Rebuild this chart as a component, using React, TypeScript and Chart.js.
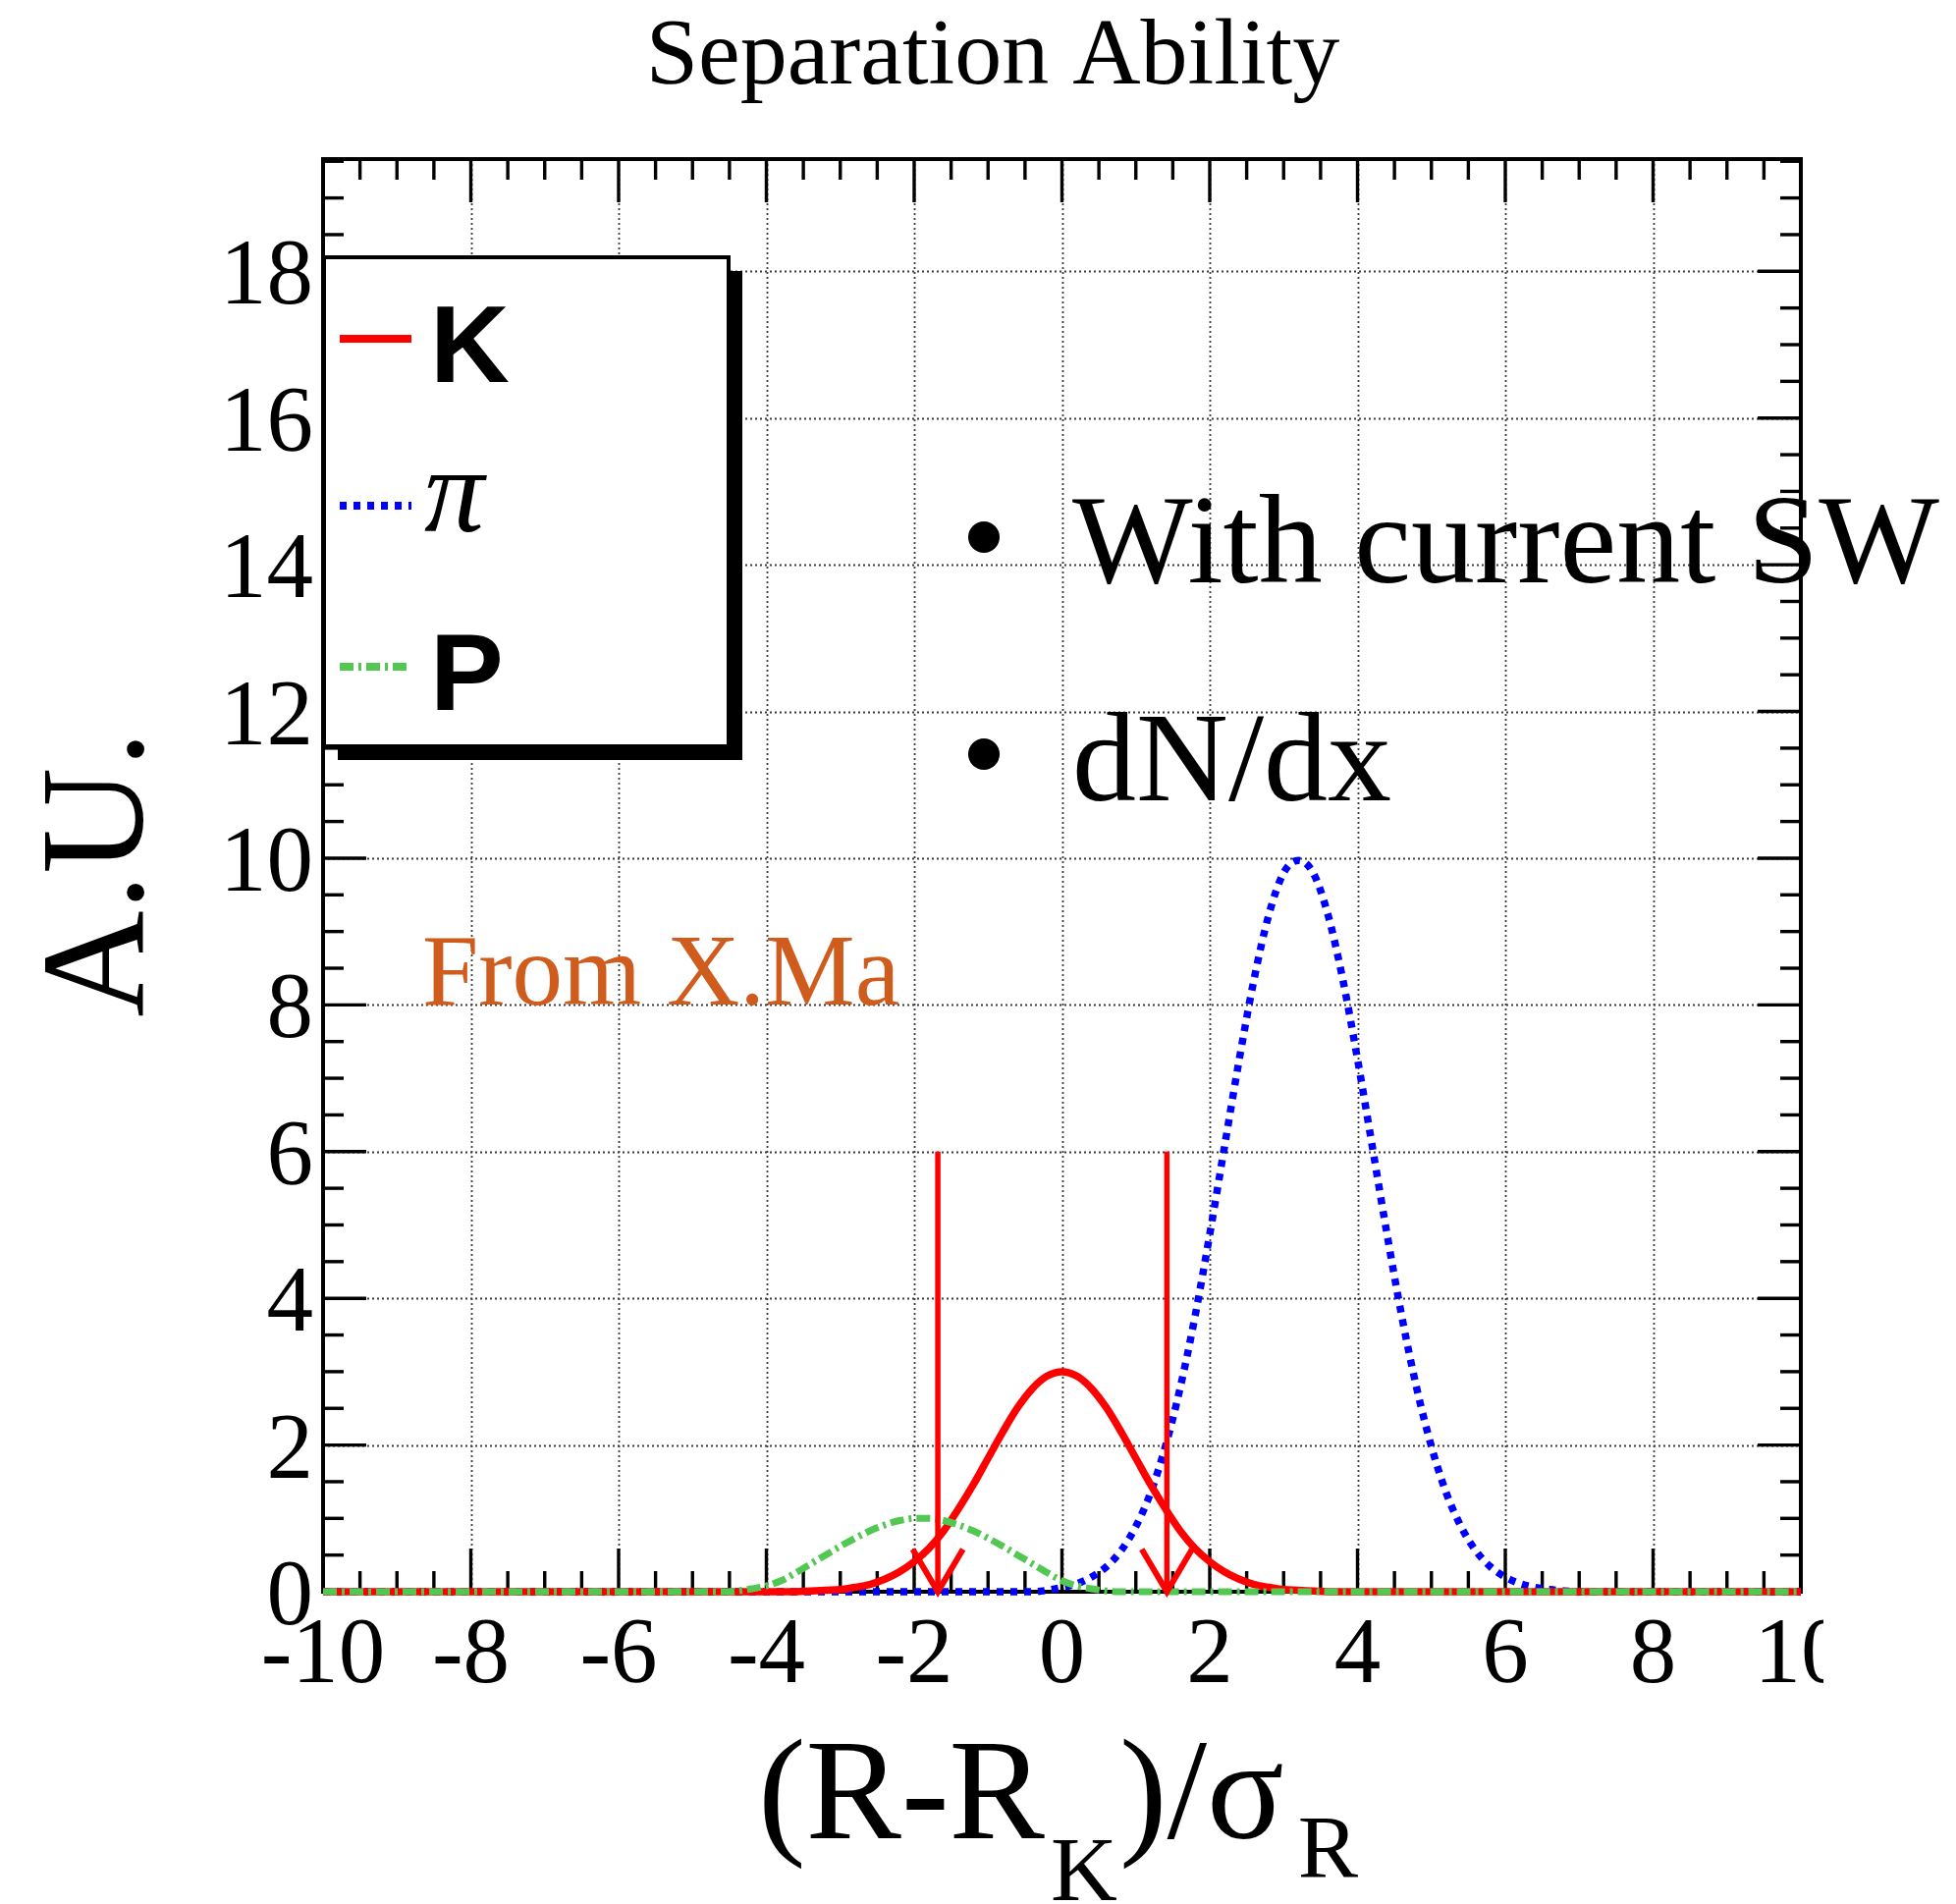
import React, { useEffect, useRef } from "react";
import { Chart, registerables } from "chart.js";

Chart.register(...registerables);

const W = 1992;
const H = 1939;

// ---- data ----
const xs = [
  -10, -5, -4.8, -4.6, -4.4, -4.2, -4, -3.8, -3.6, -3.4, -3.2, -3, -2.8, -2.6, -2.4, -2.2, -2, -1.8, -1.6,
  -1.4, -1.2, -1, -0.8, -0.6, -0.4, -0.2, 0, 0.2, 0.4, 0.6, 0.8, 1, 1.2, 1.4, 1.6, 1.8, 2, 2.2, 2.4, 2.6,
  2.8, 3, 3.2, 3.4, 3.6, 3.8, 4, 4.2, 4.4, 4.6, 4.8, 5, 5.2, 5.4, 5.6, 5.8, 6, 6.2, 6.4, 6.6, 6.8, 7, 7.2,
  7.4, 7.6, 7.8, 8, 10,
];
const kaonValues = [
  0, 0, 0, 0, 0, 0, 0, 0, 0, 0.01, 0.02, 0.03, 0.06, 0.1, 0.17, 0.27, 0.41, 0.59, 0.83,
  1.13, 1.46, 1.82, 2.18, 2.51, 2.77, 2.94, 3.0, 2.94, 2.77, 2.51, 2.18, 1.82, 1.46, 1.13, 0.83, 0.59, 0.41, 0.27, 0.17, 0.1,
  0.06, 0.03, 0.02, 0.01, 0, 0, 0, 0, 0, 0, 0, 0, 0, 0, 0, 0, 0, 0, 0, 0, 0, 0, 0,
  0, 0, 0, 0, 0,
];
const pionValues = [
  0, 0, 0, 0, 0, 0, 0, 0, 0, 0, 0, 0, 0, 0, 0, 0, 0, 0, 0,
  0, 0, 0, 0, 0, 0, 0.02, 0.06, 0.11, 0.2, 0.34, 0.56, 0.89, 1.35, 1.98, 2.78, 3.75, 4.87, 6.07, 7.26, 8.35,
  9.23, 9.8, 9.97, 9.8, 9.23, 8.35, 7.26, 6.07, 4.87, 3.75, 2.78, 1.98, 1.35, 0.89, 0.56, 0.34, 0.2, 0.11, 0.06, 0.03, 0.01, 0, 0,
  0, 0, 0, 0, 0,
];
const protonValues = [
  0, 0, 0, 0, 0.01, 0.04, 0.08, 0.15, 0.26, 0.38, 0.5, 0.62, 0.73, 0.83, 0.91, 0.97, 1.0, 1.0, 0.97,
  0.91, 0.83, 0.73, 0.62, 0.5, 0.38, 0.26, 0.15, 0.08, 0.04, 0.01, 0, 0, 0, 0, 0, 0, 0, 0, 0, 0,
  0, 0, 0, 0, 0, 0, 0, 0, 0, 0, 0, 0, 0, 0, 0, 0, 0, 0, 0, 0, 0, 0, 0,
  0, 0, 0, 0, 0,
];
const cutX = [-1.68, 1.42];
const cutTop = 6;
const arrowHeadDx = 0.34;
const arrowHeadDy = 0.58;

const xMajorTicks = [-10, -8, -6, -4, -2, 0, 2, 4, 6, 8, 10];
const xTickLabels = ["-10", "-8", "-6", "-4", "-2", "0", "2", "4", "6", "8", "10"];
const yMajorTicks = [0, 2, 4, 6, 8, 10, 12, 14, 16, 18];
const yTickLabels = ["0", "2", "4", "6", "8", "10", "12", "14", "16", "18"];
const xGridValues = [-8, -6, -4, -2, 0, 2, 4, 6, 8];
const yGridValues = [2, 4, 6, 8, 10, 12, 14, 16, 18];
const xMin = -10;
const xMax = 10;
const yMin = 0;
const yMax = 19.53;
const minorStep = 0.5;

const legendLabels = ["K", "π", "P"];

const RED = "#ff0000";
const BLUE = "#0000ff";
const GREEN = "#52c852";
const PION_DASH = [7, 7];
const PROTON_DASH = [14, 5, 3, 5];

const SERIF = '"Liberation Serif", "Times New Roman", serif';
const SANS = '"Liberation Sans", Arial, sans-serif';

function line(ctx: CanvasRenderingContext2D, x1: number, y1: number, x2: number, y2: number) {
  ctx.beginPath();
  ctx.moveTo(x1, y1);
  ctx.lineTo(x2, y2);
  ctx.stroke();
}

const decoPlugin = {
  id: "deco",
  beforeDatasetsDraw(chart: any) {
    const ctx: CanvasRenderingContext2D = chart.ctx;
    const { left, right, top, bottom } = chart.chartArea;
    const sx = chart.scales.x;
    const sy = chart.scales.y;
    ctx.save();
    // grid
    ctx.strokeStyle = "#3c3c3c";
    ctx.lineWidth = 1.8;
    ctx.setLineDash([2, 3]);
    xGridValues.forEach((v) => {
      const px = Math.round(sx.getPixelForValue(v)) + 0.5;
      line(ctx, px, top, px, bottom);
    });
    yGridValues.forEach((v) => {
      const py = Math.round(sy.getPixelForValue(v)) + 0.5;
      line(ctx, left, py, right, py);
    });
    ctx.setLineDash([]);
    // frame
    ctx.strokeStyle = "#000";
    ctx.lineWidth = 4;
    ctx.strokeRect(left, top, right - left, bottom - top);
    // ticks
    ctx.lineWidth = 3.4;
    for (let v = xMin; v <= xMax + 1e-9; v += minorStep) {
      const px = sx.getPixelForValue(v);
      const major = xMajorTicks.some((t) => Math.abs(t - v) < 1e-6);
      const len = major ? 44 : 21;
      line(ctx, px, bottom, px, bottom - len);
      line(ctx, px, top, px, top + len);
    }
    for (let v = yMin; v <= yMax + 1e-9; v += minorStep) {
      const py = sy.getPixelForValue(v);
      const major = yMajorTicks.some((t) => Math.abs(t - v) < 1e-6);
      const len = major ? 44 : 21;
      line(ctx, left, py, left + len, py);
      line(ctx, right, py, right - len, py);
    }
    ctx.restore();
  },
  afterDatasetsDraw(chart: any) {
    const ctx: CanvasRenderingContext2D = chart.ctx;
    const { left, bottom } = chart.chartArea;
    const sx = chart.scales.x;
    const sy = chart.scales.y;
    ctx.save();
    ctx.fillStyle = "#000";
    ctx.textBaseline = "alphabetic";

    // title
    ctx.font = `96px ${SERIF}`;
    ctx.textAlign = "center";
    ctx.fillText("Separation Ability", 1011, 85);

    // y tick labels
    ctx.font = `95px ${SERIF}`;
    ctx.textAlign = "right";
    yMajorTicks.forEach((v, i) => {
      const py = sy.getPixelForValue(v);
      ctx.fillText(yTickLabels[i], left - 10, py + 33);
    });

    // x tick labels (clipped at the original canvas edge)
    ctx.save();
    ctx.beginPath();
    ctx.rect(0, 0, 1857, H);
    ctx.clip();
    ctx.textAlign = "center";
    xMajorTicks.forEach((v, i) => {
      const px = sx.getPixelForValue(v);
      ctx.fillText(xTickLabels[i], px, bottom + 92);
    });
    ctx.restore();

    // x axis title (R-R_K)/σ_R
    ctx.textAlign = "left";
    let x0 = 772;
    ctx.font = `146px ${SERIF}`;
    ctx.fillText("(R-R", x0, 1872);
    x0 += ctx.measureText("(R-R").width + 6;
    ctx.font = `94px ${SERIF}`;
    ctx.fillText("K", x0, 1935);
    x0 += ctx.measureText("K").width + 2;
    ctx.font = `146px ${SERIF}`;
    ctx.fillText(")/σ", x0, 1872);
    x0 += ctx.measureText(")/σ").width + 14;
    ctx.font = `92px ${SERIF}`;
    ctx.fillText("R", x0, 1912);

    // y axis title
    ctx.save();
    ctx.translate(145, 890);
    ctx.rotate(-Math.PI / 2);
    ctx.textAlign = "center";
    ctx.font = `150px ${SERIF}`;
    ctx.fillText("A.U.", 0, 0);
    ctx.restore();

    // legend box with shadow
    const bx = 330, by = 262, bw = 412, bh = 498;
    ctx.fillStyle = "#000";
    ctx.fillRect(bx + 14, by + 14, bw, bh);
    ctx.fillStyle = "#fff";
    ctx.fillRect(bx, by, bw, bh);
    ctx.strokeStyle = "#000";
    ctx.lineWidth = 4;
    ctx.strokeRect(bx, by, bw, bh);

    const ds = chart.data.datasets;
    const rows = [
      { y: 345, base: 389, ds: ds[0], font: `bold 112px ${SANS}`, tx: 438 },
      { y: 515, base: 541, ds: ds[1], font: `italic 122px ${SERIF}`, tx: 432 },
      { y: 679, base: 723, ds: ds[2], font: `bold 112px ${SANS}`, tx: 438 },
    ];
    rows.forEach((r, i) => {
      ctx.strokeStyle = r.ds.borderColor;
      ctx.lineWidth = 8;
      ctx.setLineDash(r.ds.borderDash || []);
      line(ctx, 346, r.y, 419, r.y);
      ctx.setLineDash([]);
      ctx.fillStyle = "#000";
      ctx.font = r.font;
      ctx.textAlign = "left";
      ctx.fillText(legendLabels[i], r.tx, r.base);
    });

    // annotations
    ctx.fillStyle = "#000";
    ctx.beginPath();
    ctx.arc(1002, 547, 16, 0, Math.PI * 2);
    ctx.fill();
    ctx.beginPath();
    ctx.arc(1002, 768, 16, 0, Math.PI * 2);
    ctx.fill();
    ctx.font = `130px ${SERIF}`;
    ctx.textAlign = "left";
    ctx.fillText("With current SW", 1092, 593);
    ctx.fillText("dN/dx", 1092, 815);

    ctx.fillStyle = "#cf5c1d";
    ctx.font = `103px ${SERIF}`;
    ctx.fillText("From X.Ma", 430, 1023);

    ctx.restore();
  },
};

export default function App() {
  const ref = useRef<HTMLCanvasElement>(null);

  useEffect(() => {
    document.body.style.margin = "0";
    const canvas = ref.current;
    if (!canvas) return;

    const pts = (vals: number[]) => xs.map((x, i) => ({ x, y: vals[i] }));

    const arrowSets: any[] = [];
    cutX.forEach((cx) => {
      arrowSets.push({
        label: "cut",
        data: [
          { x: cx, y: cutTop },
          { x: cx, y: 0 },
        ],
        borderColor: RED,
        borderWidth: 5.5,
        pointRadius: 0,
        tension: 0,
        clip: false,
        order: -1,
      });
      arrowSets.push({
        label: "cut-head",
        data: [
          { x: cx - arrowHeadDx, y: arrowHeadDy },
          { x: cx, y: 0 },
          { x: cx + arrowHeadDx, y: arrowHeadDy },
        ],
        borderColor: RED,
        borderWidth: 6,
        pointRadius: 0,
        tension: 0,
        clip: false,
        order: -1,
      });
    });

    const chart = new Chart(canvas, {
      type: "line",
      data: {
        datasets: [
          {
            label: "K",
            data: pts(kaonValues),
            borderColor: RED,
            borderWidth: 7.5,
            pointRadius: 0,
            cubicInterpolationMode: "monotone",
            clip: false,
            order: 1,
          },
          {
            label: "π",
            data: pts(pionValues),
            borderColor: BLUE,
            borderWidth: 7.5,
            borderDash: PION_DASH,
            pointRadius: 0,
            cubicInterpolationMode: "monotone",
            clip: false,
            order: 2,
          },
          {
            label: "P",
            data: pts(protonValues),
            borderColor: GREEN,
            borderWidth: 7,
            borderDash: PROTON_DASH,
            pointRadius: 0,
            cubicInterpolationMode: "monotone",
            clip: false,
            order: 0,
          },
          ...arrowSets,
        ] as any,
      },
      options: {
        animation: false,
        responsive: false,
        devicePixelRatio: 1,
        layout: { padding: { left: 329, right: W - 1834, top: 162, bottom: H - 1621 } },
        scales: {
          x: { type: "linear", min: xMin, max: xMax, display: false },
          y: { type: "linear", min: yMin, max: yMax, display: false },
        },
        plugins: {
          legend: { display: false },
          tooltip: { enabled: false },
        },
        events: [],
      } as any,
      plugins: [decoPlugin],
    });

    return () => chart.destroy();
  }, []);

  return (
    <div style={{ width: W, height: H, background: "#fff", overflow: "hidden" }}>
      <canvas ref={ref} width={W} height={H} style={{ display: "block", width: W, height: H }} />
    </div>
  );
}
